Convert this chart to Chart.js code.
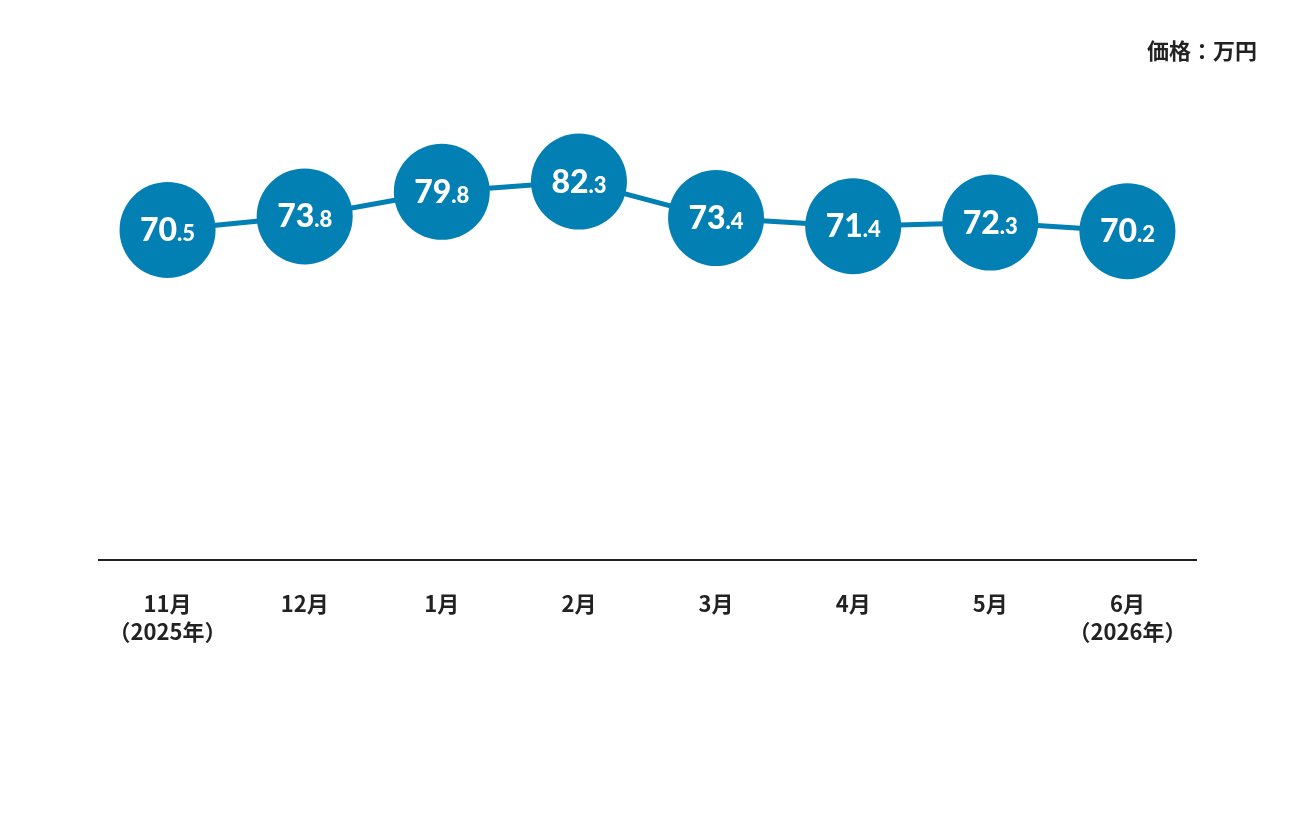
<!DOCTYPE html>
<html>
<head>
<meta charset="utf-8">
<script src="https://cdn.jsdelivr.net/npm/chart.js@4"></script>
<style>
html,body{margin:0;padding:0;background:#fff;}
#wrap{width:1296px;height:816px;position:relative;}
</style>
</head>
<body>
<div id="wrap"><canvas id="c"></canvas></div>
<script>
const categories = [["11月","（2025年）"],"12月","1月","2月","3月","4月","5月",["6月","（2026年）"]];
const values = [70.5, 73.8, 79.8, 82.3, 73.4, 71.4, 72.3, 70.2];
const unitLabel = "価格：万円";

const BLUE = "#0380b3";
const CJK = "'Noto Sans CJK JP', 'Noto Sans', sans-serif";
const NUMF = "Lato, 'Noto Sans', sans-serif";

const valueLabels = {
  id: "valueLabels",
  afterDatasetsDraw(chart) {
    const ctx = chart.ctx;
    const meta = chart.getDatasetMeta(0);
    ctx.save();
    ctx.fillStyle = "#ffffff";
    ctx.textBaseline = "alphabetic";
    ctx.textAlign = "left";
    meta.data.forEach((pt, i) => {
      const s = values[i].toFixed(1);
      const parts = s.split(".");
      const big = parts[0];
      const small = "." + parts[1];
      ctx.font = "900 32px " + NUMF;
      const wb = ctx.measureText(big).width;
      ctx.font = "900 22px " + NUMF;
      const ws = ctx.measureText(small).width;
      const x0 = pt.x - (wb + ws) / 2;
      const y = pt.y + 11;
      ctx.font = "900 32px " + NUMF;
      ctx.fillText(big, x0, y);
      ctx.font = "900 22px " + NUMF;
      ctx.fillText(small, x0 + wb, y);
    });
    ctx.restore();
  }
};

const unitText = {
  id: "unitText",
  afterDraw(chart) {
    const ctx = chart.ctx;
    ctx.save();
    ctx.fillStyle = "#222222";
    ctx.font = "bold 22px " + CJK;
    ctx.textAlign = "right";
    ctx.textBaseline = "middle";
    ctx.fillText(unitLabel, 1257, 51);
    ctx.restore();
  }
};

new Chart(document.getElementById("c"), {
  type: "line",
  data: {
    labels: categories,
    datasets: [{
      data: values,
      borderColor: BLUE,
      borderWidth: 5,
      backgroundColor: BLUE,
      pointBackgroundColor: BLUE,
      pointBorderWidth: 0,
      pointRadius: 48,
      pointHoverRadius: 48,
      tension: 0,
      fill: false,
      clip: false
    }]
  },
  options: {
    responsive: true,
    maintainAspectRatio: false,
    animation: false,
    events: [],
    layout: { padding: { left: 99, right: 100, top: 109, bottom: 0 } },
    plugins: {
      legend: { display: false },
      tooltip: { enabled: false },
      title: { display: false }
    },
    scales: {
      x: {
        type: "category",
        offset: true,
        grid: { display: false, drawTicks: false },
        border: { display: true, color: "#222222", width: 2 },
        ticks: {
          color: "#222222",
          padding: 30,
          maxRotation: 0,
          autoSkip: false,
          font: { family: CJK, size: 22, weight: "bold", lineHeight: 1.27 }
        },
        afterFit(scale) { scale.height = 256; }
      },
      y: {
        display: false,
        min: -10,
        max: 100
      }
    }
  },
  plugins: [valueLabels, unitText]
});
</script>
</body>
</html>
